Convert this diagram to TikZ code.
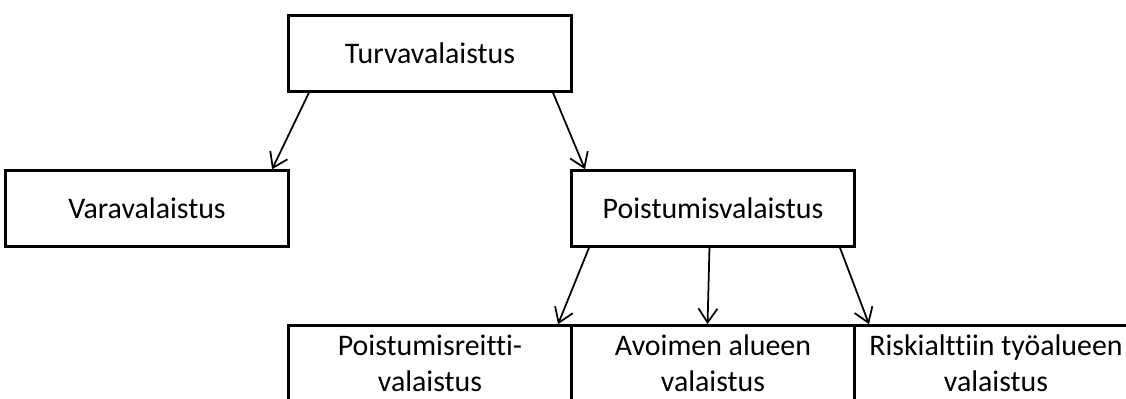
\documentclass[tikz,border=0pt]{standalone}
\usepackage{fontspec}
\setmainfont[Ligatures=NoCommon]{Carlito}
\usetikzlibrary{positioning, arrows.meta}

\begin{document}
\begin{tikzpicture}[node distance=1.58cm,
    box/.style={draw, line width=1.7pt, rectangle, minimum width=5.66cm, minimum height=1.52cm,
        outer sep=0pt, inner sep=0pt, align=center, font=\fontsize{17}{20.5}\selectfont},
    arrow/.style={line width=1pt, -{Straight Barb[length=0.28cm, width=0.38cm]}, shorten >=0.8pt}]

        \useasboundingbox (-8.6,1.07) rectangle (13.92,-6.89);

        % turvavalaistus
        \node[box] (turva) {Turvavalaistus};

        % varavalaistus and poistumisvalaistus
        \node[box] (vara) [below left = 1.58cm and 0cm of turva.south west, anchor=north east] {Varavalaistus};
        \node[box] (poist) [below right = 1.58cm and 0cm of turva.south east, anchor=north west] {Poistumisvalaistus};

        % poistumisvalaistus children
        \node[box] (avoin_alue) [below = of poist] {Avoimen alueen\\valaistus};
        \node[box] (poist_reitti) [left = 0cm of avoin_alue] {Poistumisreitti-\\valaistus};
        \node[box] (riski_alue) [right = 0cm of avoin_alue] {Riskialttiin työalueen\\valaistus};

        % turvavalaistus paths
        \path ([xshift=0.42cm]turva.south west) edge[arrow] ([xshift=-0.34cm]vara.north east);
        \path ([xshift=-0.38cm]turva.south east) edge[arrow] ([xshift=0.28cm]poist.north west);

        % poistumisvalaistus paths
        \path ([xshift=0.36cm]poist.south west) edge[arrow] ([xshift=-0.28cm]poist_reitti.north east);
        \path ([xshift=-0.07cm]poist.south) edge[arrow] ([xshift=-0.11cm]avoin_alue.north);
        \path ([xshift=-0.3cm]poist.south east) edge[arrow] ([xshift=0.3cm]riski_alue.north west);

    \end{tikzpicture}
\end{document}
